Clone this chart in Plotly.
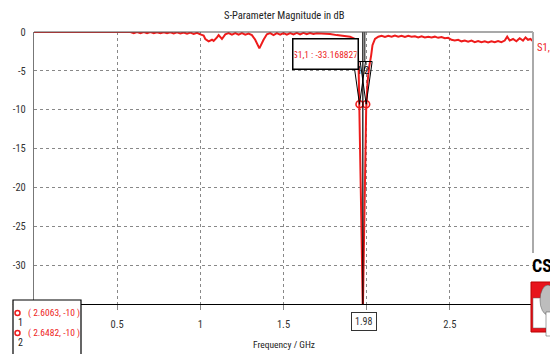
import plotly.graph_objects as go

# ---------------- data ----------------
freq_ghz = [0.00, 0.30, 0.58, 0.60, 0.62, 0.64, 0.66, 0.68, 0.70, 0.72, 0.74, 0.76, 0.78, 0.80,
            0.82, 0.84, 0.86, 0.88, 0.90, 0.92, 0.94, 0.96, 0.98, 1.00, 1.02, 1.03, 1.05, 1.07,
            1.08, 1.10, 1.11, 1.13, 1.15, 1.17, 1.19, 1.21, 1.23, 1.25, 1.27, 1.29, 1.31, 1.33,
            1.355, 1.38, 1.40, 1.42, 1.44, 1.46, 1.48, 1.50, 1.52, 1.54, 1.56, 1.58, 1.60, 1.62,
            1.64, 1.66, 1.68, 1.70, 1.74, 1.78, 1.82, 1.86, 1.90, 1.93, 1.945, 1.952, 1.957,
            1.966, 1.977, 1.983, 1.997, 2.005, 2.015, 2.027, 2.035, 2.05, 2.07, 2.09, 2.11, 2.13,
            2.15, 2.17, 2.19, 2.21, 2.23, 2.25, 2.27, 2.29, 2.31, 2.33, 2.35, 2.37, 2.39, 2.41,
            2.43, 2.45, 2.47, 2.49, 2.51, 2.53, 2.55, 2.57, 2.59, 2.61, 2.63, 2.65, 2.67, 2.69,
            2.71, 2.73, 2.75, 2.77, 2.79, 2.81, 2.83, 2.845, 2.86, 2.88, 2.90, 2.92, 2.94, 2.955,
            2.97, 2.985, 3.00]
s11_db = [0.0, 0.0, 0.0, -0.15, -0.02, -0.15, -0.02, -0.15, -0.02, -0.15, -0.03, -0.16, -0.03, -0.16,
          -0.04, -0.18, -0.05, -0.20, -0.06, -0.22, -0.08, -0.25, -0.10, -0.30, -0.45, -0.90, -1.20, -1.00,
          -1.15, -0.70, -0.40, -0.90, -0.30, -0.15, -0.35, -0.15, -0.35, -0.15, -0.35, -0.20, -0.40, -1.00,
          -2.10, -1.00, -0.30, -0.15, -0.40, -0.15, -0.35, -0.15, -0.35, -0.15, -0.30, -0.12, -0.30, -0.12,
          -0.28, -0.12, -0.25, -0.15, -0.20, -0.25, -0.40, -0.50, -0.60, -0.90, -2.00, -5.00, -10.0,
          -22.0, -36.0, -28.0, -10.0, -6.5, -4.5, -3.0, -1.7, -0.90, -0.60, -0.50, -0.65, -0.50,
          -0.60, -0.45, -0.60, -0.50, -0.65, -0.50, -0.60, -0.55, -0.70, -0.55, -0.70, -0.60, -0.70, -0.60,
          -0.75, -0.65, -0.80, -0.75, -1.00, -1.10, -1.00, -1.20, -1.10, -1.25, -1.10, -1.30, -1.15, -1.30,
          -1.20, -1.35, -1.20, -1.30, -1.15, -1.30, -1.10, -0.60, -1.10, -0.90, -1.20, -0.80, -1.10, -0.70,
          -1.00, -0.90, -1.20]

marker_x = [1.957, 1.997]
marker_y = [-9.3, -9.3]
marker_names = ["1", "2"]
marker_table = ["( 2.6063, -10 )", "( 2.6482, -10 )"]
readout_x = 1.977
readout_text = "S1,1 : -33.168827"
readout_tick = "1.98"

x_tickvals = [0.5, 1.0, 1.5, 2.0, 2.5]
x_ticktext = ["0.5", "1", "1.5", "", "2.5"]
y_tickvals = [0, -5, -10, -15, -20, -25, -30, -35]
y_ticktext = ["0", "-5", "-10", "-15", "-20", "-25", "-30", "-35"]

RED = "#ee1c1c"
FONT = "Roboto Condensed, DejaVu Sans Condensed, sans-serif"

# the page body has an 8px margin: figure drawn from (8, 8)
OFF = 8
W, H = 558 - OFF, 354 - OFF
L, R, T, B = 26, 25, 24, 50
PW, PH = W - L - R, H - T - B


def px(xp):
    """reference-screenshot x pixel -> paper x"""
    return (xp - OFF - L) / PW


def py(yp):
    """reference-screenshot y pixel -> paper y"""
    return (H - B - (yp - OFF)) / PH


def note(x, y, text, size, color, xref="paper", yref="paper", **kw):
    d = dict(x=x, y=y, xref=xref, yref=yref, text=text, showarrow=False,
             xanchor="center", yanchor="middle",
             font=dict(family=FONT, size=size, color=color))
    d.update(kw)
    return d


fig = go.Figure()
fig.add_trace(go.Scatter(x=freq_ghz, y=s11_db, mode="lines",
                         line=dict(color=RED, width=2),
                         hoverinfo="skip", showlegend=False))

shapes = []
annotations = []

# marker vertical lines
shapes.append(dict(type="line", xref="x", yref="paper", x0=readout_x, x1=readout_x,
                   y0=0, y1=1, line=dict(color="black", width=1.2), layer="above"))
shapes.append(dict(type="line", xref="x", yref="y", x0=readout_x + 0.012, x1=readout_x + 0.012,
                   y0=0, y1=-3.8, line=dict(color="black", width=1), layer="above"))

# marker triangles + labels
for mx, my, nm in zip(marker_x, marker_y, marker_names):
    hw = 0.036
    shapes.append(dict(type="path", xref="x", yref="y",
                       path=f"M {mx - hw} -3.8 L {mx + hw} -3.8 L {mx} {my} Z",
                       line=dict(color="black", width=1), fillcolor="rgba(255,255,255,0)",
                       layer="above"))
    annotations.append(note(mx, -5.0, nm, 10, "black", xref="x", yref="y"))
fig.add_trace(go.Scatter(x=marker_x, y=marker_y, mode="markers",
                         marker=dict(symbol="circle-open", size=7, color=RED, line=dict(width=1.6)),
                         hoverinfo="skip", showlegend=False))

# readout box
annotations.append(note(px(325), py(53.5), readout_text, 9.5, RED,
                        bgcolor="white", bordercolor="black", borderwidth=1.5,
                        width=62, height=27, borderpad=1))

# boxed tick label 1.98
annotations.append(note(readout_x + 0.005, py(321), readout_tick, 10, "#333", yref="paper",
                        xref="x", bordercolor="#333", borderwidth=1, borderpad=3))

# frame lines (top and right)
shapes.append(dict(type="line", xref="paper", yref="paper", x0=0, x1=1, y0=1, y1=1,
                   line=dict(color="#555", width=1.2)))
shapes.append(dict(type="line", xref="paper", yref="paper", x0=1, x1=1, y0=1, y1=py(253),
                   line=dict(color="#aaaaaa", width=2)))

# title / axis title / trace label
annotations.append(note(px(284), py(15), "S-Parameter Magnitude in dB", 10.5, "#222"))
annotations.append(note(px(284), py(344), "Frequency / GHz", 9.5, "#222"))
annotations.append(note(px(546), py(47), "S1,1", 10.5, RED))

# marker table box (bottom-left)
shapes.append(dict(type="rect", xref="paper", yref="paper", x0=px(13), x1=px(81),
                   y0=py(300), y1=py(358), line=dict(color="black", width=1.2),
                   fillcolor="white", layer="above"))
for i, txt in enumerate(marker_table):
    yy = 313 + 20 * i
    annotations.append(note(px(54), py(yy), txt, 9.5, RED))
    shapes.append(dict(type="circle", xref="paper", yref="paper", x0=px(15), x1=px(20),
                       y0=py(yy - 2.5), y1=py(yy + 2.5), line=dict(color=RED, width=1.5),
                       layer="above"))
    annotations.append(note(px(20), py(yy + 9), marker_names[i], 10, "#222"))

# CST logo
annotations.append(dict(x=px(530), y=py(265), xref="paper", yref="paper", text="<b>CST</b>",
                        xanchor="left", yanchor="middle", showarrow=False,
                        font=dict(family=FONT, size=18, color="black")))
shapes.append(dict(type="rect", xref="paper", yref="paper", x0=px(531), x1=px(560),
                   y0=py(282), y1=py(332), fillcolor="#e8141c", line=dict(color="#b00", width=1),
                   layer="above"))
shapes.append(dict(type="rect", xref="paper", yref="paper", x0=px(533), x1=px(547),
                   y0=py(298), y1=py(328), fillcolor="white", line=dict(color="#666", width=0.5),
                   layer="above"))
shapes.append(dict(type="circle", xref="paper", yref="paper", x0=px(540), x1=px(556),
                   y0=py(285), y1=py(315), fillcolor="#bdbdbd", line=dict(color="#555", width=0.5),
                   layer="above"))
shapes.append(dict(type="rect", xref="paper", yref="paper", x0=px(546), x1=px(552),
                   y0=py(312), y1=py(336), fillcolor="white", line=dict(color="#444", width=0.5),
                   layer="above"))

fig.update_layout(
    width=W, height=H,
    margin=dict(l=L, r=R, t=T, b=B, autoexpand=False),
    paper_bgcolor="white", plot_bgcolor="white",
    shapes=shapes, annotations=annotations,
    showlegend=False,
    font=dict(family=FONT, size=10, color="#333"),
)
fig.update_xaxes(range=[0, 3], tickvals=x_tickvals, ticktext=x_ticktext, automargin=False,
                 showgrid=True, gridcolor="#888", griddash="dot", gridwidth=1,
                 zeroline=False, showline=True, linecolor="black", linewidth=1.2,
                 ticks="outside", ticklen=5, tickcolor="#888", ticklabelstandoff=5,
                 tickfont=dict(family=FONT, size=10.5, color="#333"))
fig.update_yaxes(range=[-35, 0], tickvals=y_tickvals, ticktext=y_ticktext, automargin=False,
                 showgrid=True, gridcolor="#888", griddash="dot", gridwidth=1,
                 zeroline=False, showline=True, linecolor="#777", linewidth=1.2,
                 ticks="", ticklabelstandoff=5,
                 tickfont=dict(family=FONT, size=10.5, color="#333"))

fig.write_html("out.html",
               post_script="document.documentElement.style.overflow='hidden';"
                           "document.body.style.overflow='hidden';")
